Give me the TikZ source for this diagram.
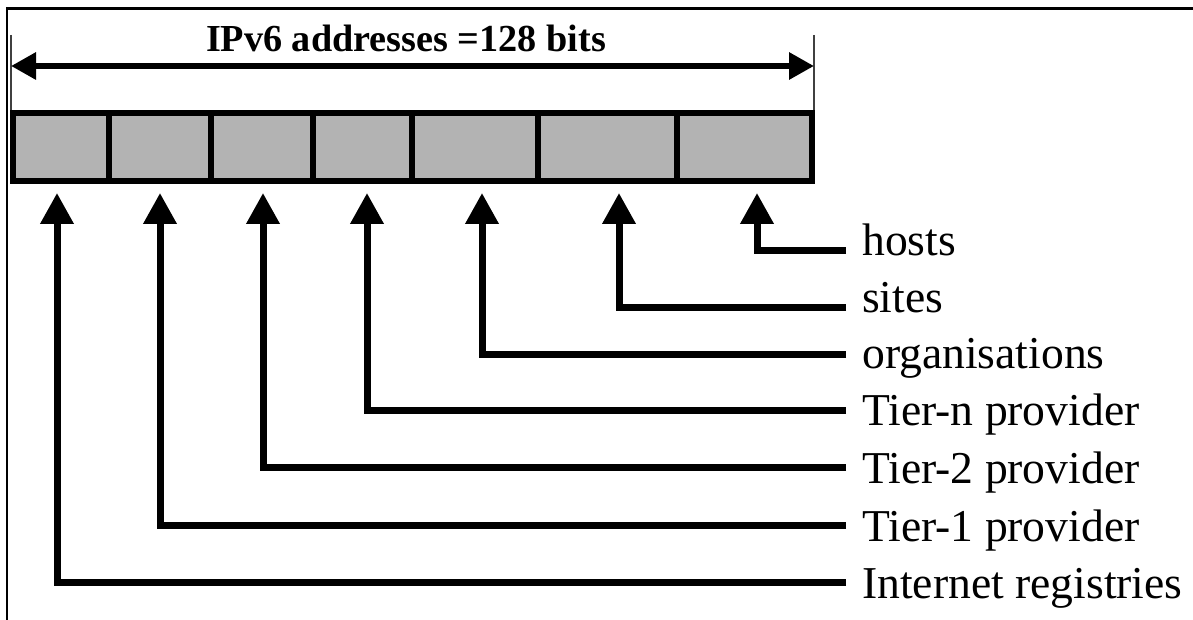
\documentclass[tikz,border=0pt]{standalone}
\usepackage{fontspec}
\setmainfont{Liberation Serif}
\usetikzlibrary{arrows.meta}
\tikzset{
  cell/.style={draw=black, fill=boxgray, line width=6pt, rectangle, inner sep=0pt, outer sep=0pt, minimum height=68pt},
  conn/.style={draw=black, line width=7pt, line join=miter, -{Triangle[length=31pt,width=32pt]}},
  dimarrow/.style={draw=black, line width=6pt, {Triangle[length=25pt,width=26pt]}-{Triangle[length=25pt,width=26pt]}},
  extline/.style={draw=black!75, line width=1.5pt},
  frameline/.style={draw=black, line width=2.5pt},
  lbl/.style={anchor=base west, inner sep=0pt, font=\fontsize{45.6}{50}\selectfont},
  ttl/.style={anchor=base, inner sep=0pt, font=\fontsize{38.2}{42}\selectfont\bfseries}
}
\definecolor{boxgray}{HTML}{B3B3B3}
\begin{document}
\begin{tikzpicture}[x=1pt,y=-1pt]
\useasboundingbox (0,0) rectangle (1193,620);
% partial outer frame (top and left only)
\draw[frameline] (7,620) -- (7,8.7) -- (1193,8.7);

% dimension
\coordinate (eLt) at (11,35);
\coordinate (eLb) at (11,110);
\coordinate (eRt) at (814,35);
\coordinate (eRb) at (814,110);
\draw[extline] (eLt) -- (eLb);
\draw[extline] (eRt) -- (eRb);
\coordinate (dL) at (11,66);
\coordinate (dR) at (814,66);
\draw[dimarrow] (dL) -- (dR);
\node[ttl] (title) at (406,52) {IPv6 addresses =128 bits};

% address fields
\node[cell, minimum width=96pt]    (c1) at (61,147) {};
\node[cell, minimum width=102pt]   (c2) at (160,147) {};
\node[cell, minimum width=101.5pt] (c3) at (261.75,147) {};
\node[cell, minimum width=99.5pt]  (c4) at (362.25,147) {};
\node[cell, minimum width=126.3pt] (c5) at (475.15,147) {};
\node[cell, minimum width=138.4pt] (c6) at (607.5,147) {};
\node[cell, minimum width=135.3pt] (c7) at (744.35,147) {};

% labels
\node[lbl] (lh) at (862,255) {hosts};
\node[lbl] (ls) at (862,312) {sites};
\node[lbl] (lo) at (862,368) {organisations};
\node[lbl] (ln) at (862,425) {Tier-n provider};
\node[lbl] (l2) at (862,483) {Tier-2 provider};
\node[lbl] (l1) at (862,541) {Tier-1 provider};
\node[lbl] (li) at (862,598) {Internet registries};

% connector ends next to labels
\coordinate (eh) at (846,250.5);
\coordinate (es) at (846,307.5);
\coordinate (eo) at (846,354);
\coordinate (en) at (846,410);
\coordinate (e2) at (846,467);
\coordinate (e1) at (846,525);
\coordinate (ei) at (846,582.5);
% arrow tips below fields
\coordinate (th) at (757,193);
\coordinate (ts) at (619,193);
\coordinate (to) at (482,193);
\coordinate (tn) at (367,193);
\coordinate (t2) at (263,193);
\coordinate (t1) at (160,193);
\coordinate (ti) at (57,193);

\draw[conn] (eh) -| (th);
\draw[conn] (es) -| (ts);
\draw[conn] (eo) -| (to);
\draw[conn] (en) -| (tn);
\draw[conn] (e2) -| (t2);
\draw[conn] (e1) -| (t1);
\draw[conn] (ei) -| (ti);
\end{tikzpicture}
\end{document}
